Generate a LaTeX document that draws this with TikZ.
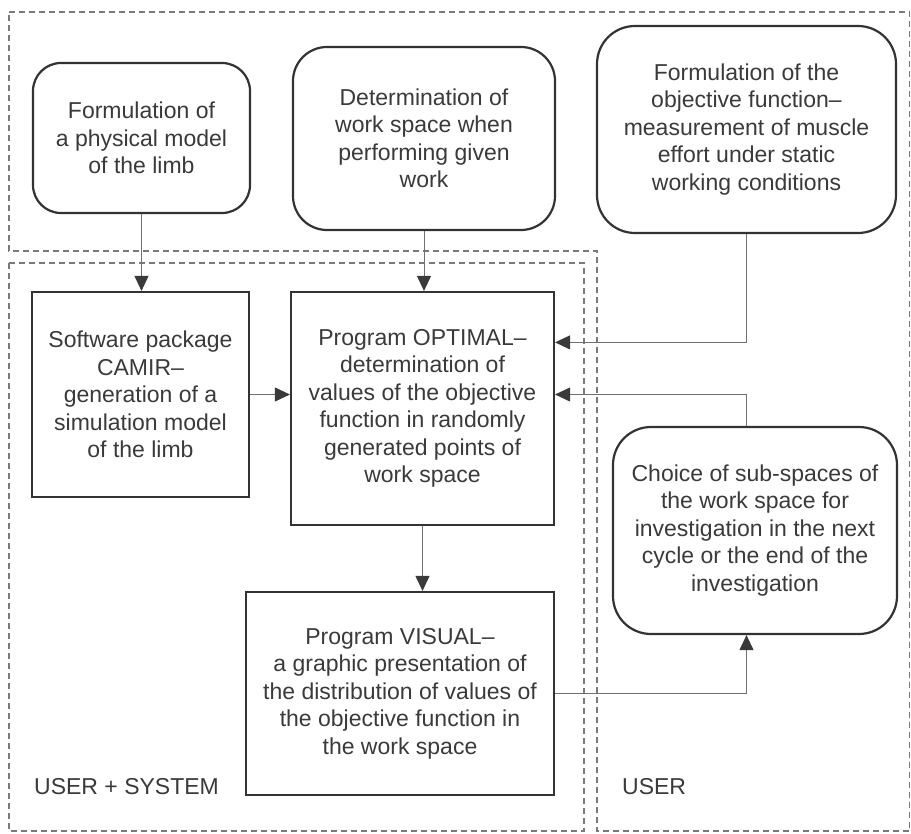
\documentclass[tikz,border=0pt]{standalone}
\usepackage{fontspec}
\setmainfont{Liberation Sans}
\usetikzlibrary{arrows.meta,calc}
\definecolor{ink}{HTML}{3A3A3A}
\definecolor{boxline}{HTML}{333333}
\definecolor{conn}{HTML}{707070}
\definecolor{dash}{HTML}{7A7A7A}
\tikzset{
  txt/.style={font=\fontsize{23}{27.5}\selectfont, text=ink, align=center, inner sep=0pt},
  roundbox/.style={txt, draw=boxline, line width=2.2pt, rounded corners=#1},
  roundbox/.default=32pt,
  sqbox/.style={txt, draw=boxline, line width=2.2pt},
  conn/.style={draw=conn, line width=1pt, -{Triangle[length=15pt,width=14pt,fill=ink,color=ink]}},
  plain/.style={draw=conn, line width=1pt},
  region/.style={draw=dash, line width=1.2pt, dash pattern=on 6pt off 4pt},
  lbl/.style={font=\fontsize{23}{27.5}\selectfont, text=ink, inner sep=0pt, anchor=west}
}
\begin{document}
\begin{tikzpicture}[x=1pt,y=-1pt]
\useasboundingbox (0,0) rectangle (911,834);
\fill[white] (0,0) rectangle (911,834);
% regions
\draw[region] (9,12) -- (909.5,12) -- (909.5,831) -- (597,831) -- (597,251) -- (9,251) -- cycle;
\draw[region] (9,263) rectangle (584,831);
% nodes
\node[roundbox=28pt, minimum width=217pt, minimum height=150pt] (b1) at (141.5,138) {Formulation of\\a physical model\\of the limb};
\node[roundbox=34pt, minimum width=262pt, minimum height=183pt] (b2) at (424,138.5) {Determination of\\work space when\\performing given\\work};
\node[roundbox=38pt, minimum width=299pt, minimum height=207pt] (b3) at (746.5,129.5) {Formulation of the\\objective function--\\measurement of muscle\\effort under static\\working conditions};
\node[sqbox, minimum width=217pt, minimum height=205pt] (sw) at (140.5,394.5) {Software package\\CAMIR--\\generation of a\\simulation model\\of the limb};
\node[sqbox, minimum width=263pt, minimum height=233pt] (opt) at (422.5,408.5) {Program OPTIMAL--\\determination of\\values of the objective\\function in randomly\\generated points of\\work space};
\node[sqbox, minimum width=308pt, minimum height=203pt] (vis) at (400,693.5) {Program VISUAL--\\a graphic presentation of\\the distribution of values of\\the objective function in\\the work space};
\node[roundbox=38pt, minimum width=284pt, minimum height=207pt] (ch) at (755,530.5) {Choice of sub-spaces of\\the work space for\\investigation in the next\\cycle or the end of the\\investigation};
\node[lbl] (l1) at (34,787) {USER + SYSTEM};
\node[lbl] (l2) at (622,787) {USER};
\coordinate (optin1) at ($(opt.north east)!0.219!(opt.south east)$);
% connectors
\draw[conn] (b1.south) -- (b1.south |- sw.north);
\draw[conn] (b2.south) -- (b2.south |- opt.north);
\draw[conn] (sw.east) -- (sw.east -| opt.west);
\draw[conn] (b3.south) |- (optin1);
\draw[conn] (b3.south |- ch.north) |- (sw.east -| opt.east);
\draw[conn] (opt.south) -- (opt.south |- vis.north);
\draw[conn] (vis.east) -| (b3.south |- ch.south);
\end{tikzpicture}
\end{document}
